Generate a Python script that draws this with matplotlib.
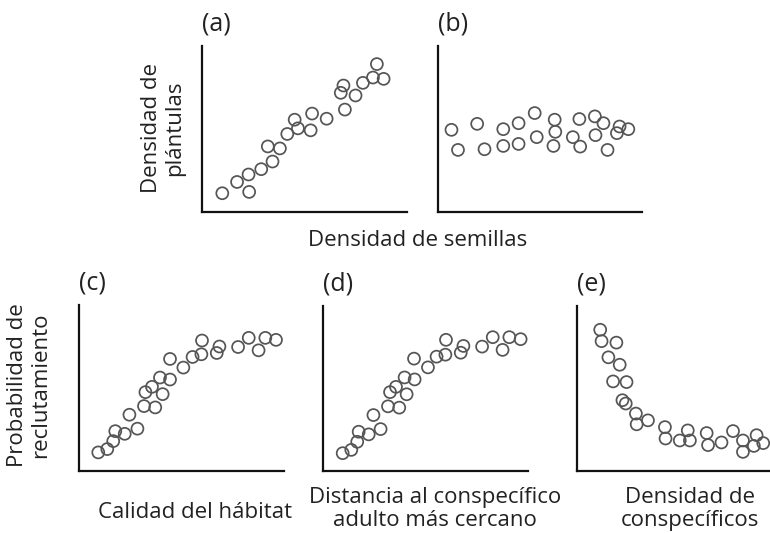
import numpy as np
import matplotlib
matplotlib.use("Agg")
import matplotlib.pyplot as plt

plt.rcParams["font.family"] = ["Open Sans", "DejaVu Sans"]

# (a) seedling density vs seed density
a_x = [0.99, 1.71, 2.27, 2.30, 2.89, 3.44, 3.21, 3.80, 4.16, 4.52, 4.68,
       5.30, 5.37, 6.08, 6.77, 6.90, 6.97, 7.49, 7.85, 8.34, 8.53, 8.86]
a_y = [1.13, 1.81, 2.26, 1.21, 2.58, 3.04, 3.95, 3.83, 4.70, 5.56, 5.04,
       4.92, 5.93, 5.62, 7.18, 7.62, 6.17, 7.02, 7.78, 8.10, 8.91, 8.02]

# (b) no relation
b_x = [0.66, 0.98, 1.92, 2.28, 3.20, 3.20, 3.95, 3.95, 4.74, 4.84, 5.72, 5.66,
       5.75, 6.61, 6.93, 6.97, 7.69, 7.72, 8.11, 8.31, 8.77, 8.90, 9.33]
b_y = [4.95, 3.74, 5.31, 3.78, 4.99, 3.98, 5.35, 4.10, 5.96, 4.51, 5.56, 3.98,
       4.83, 4.51, 5.60, 3.94, 5.76, 4.63, 5.35, 3.74, 4.75, 5.15, 4.99]

# (c) recruitment vs habitat quality
c_x = [0.94, 1.38, 1.67, 1.77, 2.23, 2.46, 2.85, 3.17, 3.72, 3.24, 3.56, 3.95, 4.08,
       4.44, 4.44, 5.09, 5.54, 5.97, 6.00, 6.72, 6.85, 7.76, 8.28, 8.76, 9.09, 9.61]
c_y = [1.12, 1.32, 1.80, 2.40, 2.24, 3.39, 2.55, 3.91, 3.83, 4.75, 5.07, 5.63, 4.63,
       5.51, 6.75, 6.23, 6.87, 7.03, 7.86, 7.11, 7.50, 7.47, 8.02, 7.27, 8.02, 7.90]

# (d) recruitment vs distance to nearest adult
d_x = [0.96, 1.38, 1.67, 1.74, 2.23, 2.46, 2.81, 3.17, 3.72, 3.27, 3.56, 3.98, 4.08,
       4.47, 4.44, 5.12, 5.54, 5.97, 6.00, 6.72, 6.85, 7.76, 8.28, 8.76, 9.09, 9.64]
d_y = [1.08, 1.28, 1.77, 2.38, 2.22, 3.39, 2.54, 3.92, 3.84, 4.78, 5.10, 5.67, 4.65,
       5.55, 6.81, 6.28, 6.93, 7.05, 7.95, 7.17, 7.58, 7.54, 8.11, 7.34, 8.11, 7.99]

# (e) recruitment vs conspecific density
e_x = [1.19, 1.26, 2.02, 1.61, 2.19, 1.85, 2.54, 2.33, 2.50, 3.02, 3.06, 3.64, 4.51,
       4.54, 5.27, 5.68, 5.79, 6.65, 6.72, 7.41, 8.00, 8.51, 8.51, 9.07, 9.21, 9.55]
e_y = [8.56, 7.87, 7.78, 6.89, 6.44, 5.43, 5.39, 4.29, 4.09, 3.48, 2.83, 3.07, 2.66,
       1.97, 1.85, 2.46, 1.85, 2.30, 1.57, 1.73, 2.42, 1.85, 1.16, 1.52, 2.17, 1.69]

W, H = 770, 533
fig = plt.figure(figsize=(W / 100, H / 100), dpi=100)


def px_axes(left, top, right, bottom):
    ax = fig.add_axes([left / W, 1 - bottom / H, (right - left) / W, (bottom - top) / H])
    ax.set_xlim(0, 10)
    ax.set_ylim(0, 10)
    ax.set_xticks([])
    ax.set_yticks([])
    for s in ["top", "right"]:
        ax.spines[s].set_visible(False)
    for s in ["left", "bottom"]:
        ax.spines[s].set_linewidth(1.6)
        ax.spines[s].set_color("#111111")
    ax.patch.set_alpha(0)
    return ax


panels = [
    ((202, 46, 407, 212), a_x, a_y, "(a)"),
    ((438, 46, 642, 212), b_x, b_y, "(b)"),
    ((79, 305, 284, 471), c_x, c_y, "(c)"),
    ((323, 306, 528, 471), d_x, d_y, "(d)"),
    ((577, 306, 772, 471), e_x, e_y, "(e)"),
]

for box, xs, ys, lab in panels:
    ax = px_axes(*box)
    ax.scatter(xs, ys, s=74, facecolors="none", edgecolors="#555555",
               linewidths=1.25, clip_on=False, zorder=3)
    fig.text(box[0] / W, 1 - (box[1] - 22) / H, lab, fontsize=18,
             ha="left", va="center", color="#222222")

tc = "#222222"
fs = 16
fig.text(418 / W, 1 - 241 / H, "Densidad de semillas", fontsize=fs,
         ha="center", va="center", color=tc)
fig.text(163 / W, 1 - 128 / H, "Densidad de\nplántulas", fontsize=fs,
         ha="center", va="center", rotation=90, color=tc, linespacing=1.1)
fig.text(29 / W, 1 - 385 / H, "Probabilidad de\nreclutamiento", fontsize=fs,
         ha="center", va="center", rotation=90, color=tc, linespacing=1.1)
fig.text(195 / W, 1 - 513 / H, "Calidad del hábitat", fontsize=fs,
         ha="center", va="center", color=tc)
fig.text(435 / W, 1 - 509 / H, "Distancia al conspecífico\nadulto más cercano",
         fontsize=fs, ha="center", va="center", color=tc, linespacing=1.1)
fig.text(690 / W, 1 - 509 / H, "Densidad de\nconspecíficos", fontsize=fs,
         ha="center", va="center", color=tc, linespacing=1.1)

fig.savefig("out.png", dpi=100)
